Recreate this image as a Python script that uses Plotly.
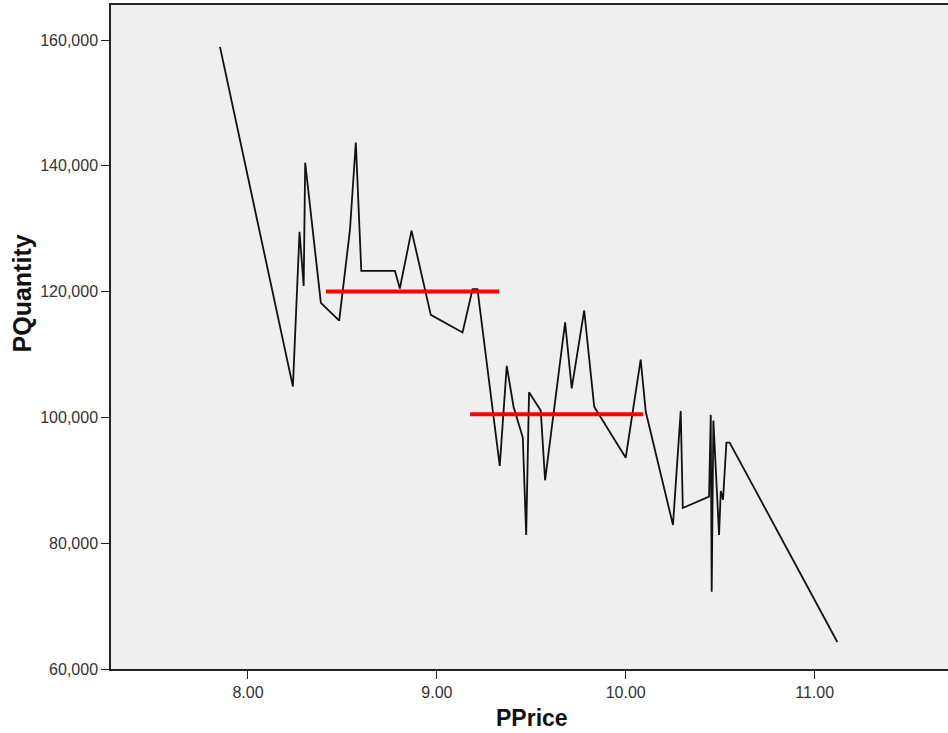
import plotly.graph_objects as go

price = [7.852, 8.238, 8.273, 8.295, 8.303, 8.386, 8.483, 8.540, 8.571, 8.600,
         8.778, 8.804, 8.866, 8.968, 9.136, 9.189, 9.215, 9.333, 9.370, 9.406,
         9.455, 9.473, 9.488, 9.550, 9.573, 9.679, 9.714, 9.780, 9.833, 10.000,
         10.079, 10.106, 10.250, 10.291, 10.302, 10.441, 10.450, 10.455, 10.464, 10.494,
         10.503, 10.515, 10.533, 10.550, 11.120]
quantity = [158900, 104900, 129500, 120900, 140500, 118200, 115400, 129800, 143700, 123300,
            123300, 120500, 129700, 116300, 113500, 120400, 120400, 92300, 108200, 101700,
            96800, 81300, 104000, 101100, 90000, 115100, 104600, 117000, 101700, 93600,
            109200, 100900, 82900, 101000, 85600, 87400, 100400, 72300, 99500, 81300,
            88300, 86900, 96000, 96000, 64300]

ref1_x = [8.413, 9.33]
ref1_y = [120000, 120000]
ref2_x = [9.176, 10.091]
ref2_y = [100500, 100500]

x_ticks = [8.0, 9.0, 10.0, 11.0]
y_ticks = [60000, 80000, 100000, 120000, 140000, 160000]

fig = go.Figure()
fig.add_trace(go.Scatter(x=price, y=quantity, mode="lines",
                         line=dict(color="#111111", width=1.8), showlegend=False))
fig.add_trace(go.Scatter(x=ref1_x, y=ref1_y, mode="lines",
                         line=dict(color="#ff0000", width=4), showlegend=False))
fig.add_trace(go.Scatter(x=ref2_x, y=ref2_y, mode="lines",
                         line=dict(color="#ff0000", width=4), showlegend=False))

tfam = "Liberation Sans Narrow, Arial Narrow, Liberation Sans, sans-serif"

fig.update_layout(
    width=948, height=733,
    margin=dict(l=111, r=0, t=5, b=64),
    paper_bgcolor="white",
    plot_bgcolor="#efefef",
    font=dict(family="Liberation Sans, Arial, sans-serif", color="#333333"),
    xaxis=dict(
        range=[7.275, 11.706], tickvals=x_ticks, tickformat=".2f",
        showgrid=False, zeroline=False,
        showline=True, linecolor="#222222", linewidth=1.5, mirror=True,
        ticks="outside", ticklen=8, tickcolor="#222222",
        tickfont=dict(size=16, color="#333333"),
    ),
    yaxis=dict(
        range=[60000, 165565], tickvals=y_ticks, tickformat=",d",
        showgrid=False, zeroline=False,
        showline=True, linecolor="#222222", linewidth=1.5, mirror=False,
        ticks="outside", ticklen=8, tickcolor="#222222",
        tickfont=dict(size=16, color="#333333"),
    ),
    annotations=[
        dict(text="<b>PPrice</b>", xref="paper", yref="paper", x=0.503, y=-0.0738,
             xanchor="center", yanchor="middle", showarrow=False,
             font=dict(family=tfam, size=23, color="#111111")),
        dict(text="<b>PQuantity</b>", xref="paper", yref="paper", x=-0.106, y=0.566,
             xanchor="center", yanchor="middle", textangle=-90, showarrow=False,
             font=dict(family=tfam, size=25, color="#111111")),
    ],
)

fig.write_html("out.html", config={"displayModeBar": False},
               post_script="document.body.style.margin='0';")
